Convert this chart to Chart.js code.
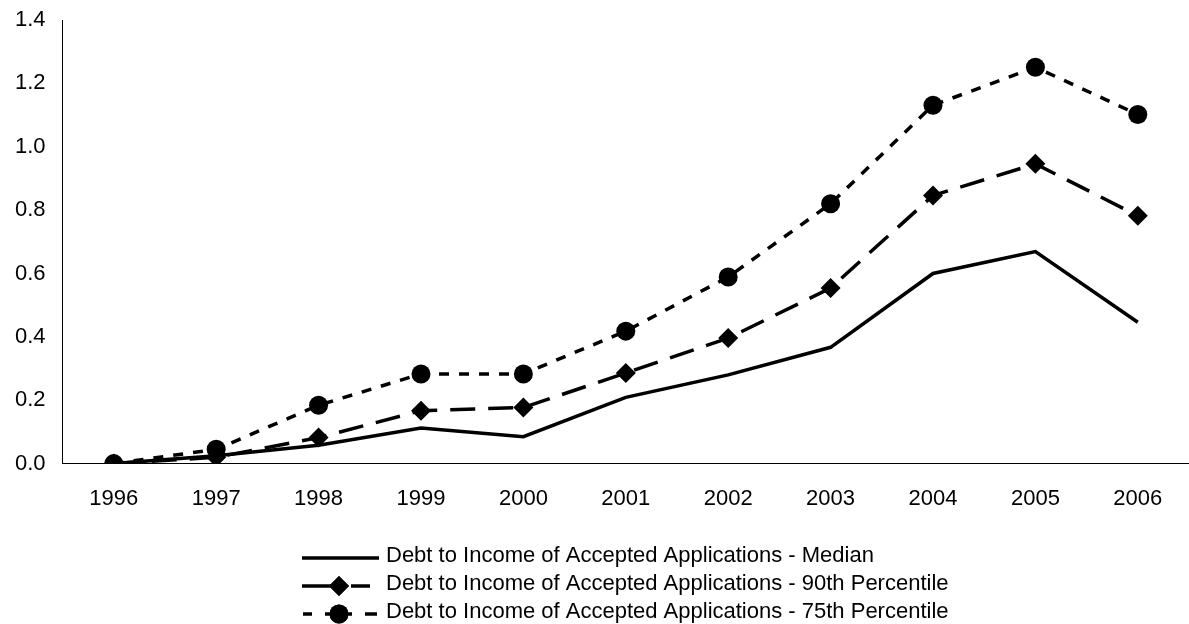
<!DOCTYPE html>
<html>
<head>
<meta charset="utf-8">
<script src="https://cdn.jsdelivr.net/npm/chart.js@4.4.1/dist/chart.umd.min.js"></script>
<style>
  html, body { margin: 0; padding: 0; background: #fff; overflow: hidden; }
  #wrap { position: relative; width: 1189px; height: 624px; }
</style>
</head>
<body>
<div id="wrap"><canvas id="chart"></canvas></div>
<script>
// Years on the category axis
const years = ['1996', '1997', '1998', '1999', '2000', '2001', '2002', '2003', '2004', '2005', '2006'];

// Debt-to-income ratios of accepted applications
const medianValues = [0, 0.025, 0.058, 0.112, 0.085, 0.209, 0.28, 0.367, 0.6, 0.669, 0.446];
const p90Values    = [0, 0.02, 0.082, 0.167, 0.177, 0.286, 0.396, 0.554, 0.846, 0.946, 0.782];
const p75Values    = [0, 0.045, 0.184, 0.283, 0.283, 0.418, 0.589, 0.82, 1.131, 1.251, 1.102];

// Series labels
const seriesLabels = [
  'Debt to Income of Accepted Applications - Median',
  'Debt to Income of Accepted Applications - 90th Percentile',
  'Debt to Income of Accepted Applications - 75th Percentile'
];

// Value-axis tick labels
const yTicks = [0, 0.2, 0.4, 0.6, 0.8, 1.0, 1.2, 1.4];

const FONT = '"Liberation Sans", Arial, sans-serif';

const styles = [
  { dash: [], pointStyle: false, radius: 0 },
  { dash: [25, 13], pointStyle: 'rectRot', radius: 10 },
  { dash: [10, 10], pointStyle: 'circle', radius: 9.5 }
];

// Vertical legend drawn under the plot
const stackedLegend = {
  id: 'stackedLegend',
  afterDraw(chart) {
    const ctx = chart.ctx;
    const rows = [558, 586, 614];
    const x0 = 302, x1 = 379, mx = 339, tx = 386;
    ctx.save();
    chart.data.datasets.forEach((ds, i) => {
      const y = rows[i];
      const st = styles[i];
      ctx.strokeStyle = '#000';
      ctx.lineWidth = 3.5;
      ctx.setLineDash([]);
      if (i === 1) {
        ctx.beginPath(); ctx.moveTo(x0, y); ctx.lineTo(331, y); ctx.stroke();
        ctx.beginPath(); ctx.moveTo(351, y); ctx.lineTo(370, y); ctx.stroke();
      } else if (i === 2) {
        [[303, 312], [325, 352], [365, 377]].forEach(s => {
          ctx.beginPath(); ctx.moveTo(s[0], y); ctx.lineTo(s[1], y); ctx.stroke();
        });
      } else {
        ctx.beginPath(); ctx.moveTo(x0, y); ctx.lineTo(x1, y); ctx.stroke();
      }
      if (st.pointStyle) {
        Chart.helpers.drawPoint(ctx, { pointStyle: st.pointStyle, radius: st.radius, borderWidth: 0 }, mx, y);
        ctx.fillStyle = '#000';
        ctx.fill();
      }
      ctx.fillStyle = '#000';
      ctx.font = '22px ' + FONT;
      ctx.textBaseline = 'middle';
      ctx.textAlign = 'left';
      ctx.fillText(ds.label, tx, y - 2);
    });
    ctx.restore();
  }
};

// Keep tick-label overflow from shrinking the plot area
function noScalePadding(scale) {
  scale.paddingTop = 0;
  scale.paddingBottom = 0;
  scale.paddingLeft = 0;
  scale.paddingRight = 0;
}

const seriesData = [medianValues, p90Values, p75Values];

new Chart(document.getElementById('chart'), {
  type: 'line',
  data: {
    labels: years,
    datasets: seriesData.map((vals, i) => ({
      label: seriesLabels[i],
      data: vals,
      borderColor: '#000',
      backgroundColor: '#000',
      borderWidth: 3.5,
      borderDash: styles[i].dash,
      pointStyle: styles[i].pointStyle || 'circle',
      pointRadius: styles[i].radius,
      pointHoverRadius: styles[i].radius,
      pointBorderWidth: 0,
      tension: 0,
      fill: false
    }))
  },
  plugins: [stackedLegend],
  options: {
    responsive: true,
    maintainAspectRatio: false,
    devicePixelRatio: 1,
    animation: false,
    events: [],
    layout: { autoPadding: false, padding: { top: 20, left: -2, right: 0, bottom: 90 } },
    plugins: { legend: { display: false }, tooltip: { enabled: false } },
    scales: {
      x: {
        type: 'category',
        offset: true,
        afterFit: noScalePadding,
        grid: { display: false, drawTicks: false, tickLength: 0 },
        border: { display: true, color: '#000', width: 1 },
        ticks: { color: '#000', font: { family: FONT, size: 22 }, padding: 22, maxRotation: 0, autoSkip: false }
      },
      y: {
        min: 0,
        max: 1.4,
        afterFit: noScalePadding,
        afterBuildTicks(scale) { scale.ticks = yTicks.map(v => ({ value: v })); },
        grid: { display: false, drawTicks: false, tickLength: 0 },
        border: { display: true, color: '#000', width: 1 },
        ticks: {
          color: '#000',
          font: { family: FONT, size: 22 },
          padding: 17,
          callback: v => Number(v).toFixed(1)
        }
      }
    }
  }
});
</script>
</body>
</html>
